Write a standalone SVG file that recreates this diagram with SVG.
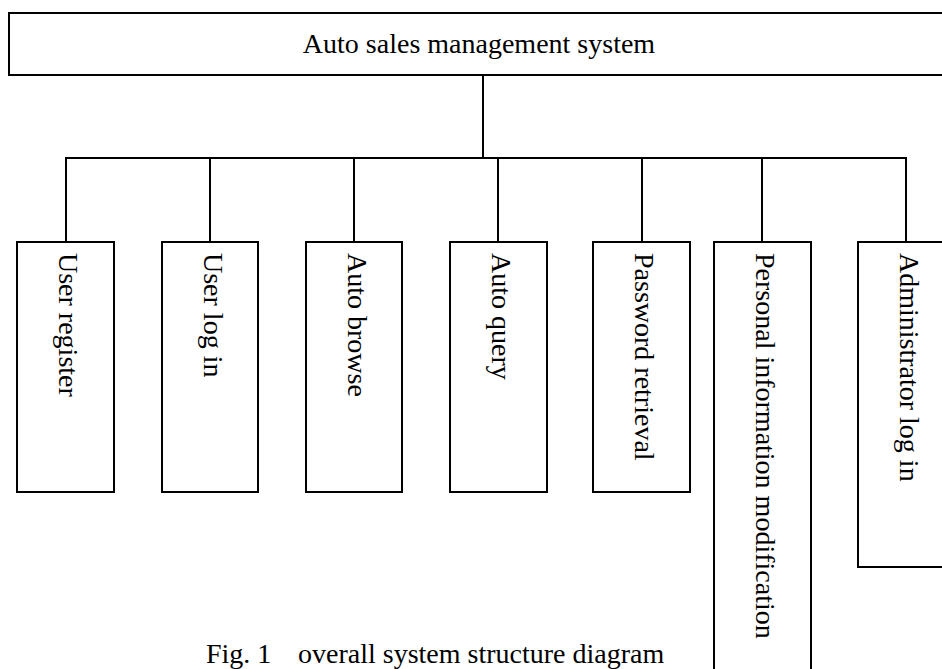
<svg xmlns="http://www.w3.org/2000/svg" width="942" height="669" viewBox="0 0 942 669">
<style>
.box{fill:#fff;stroke:#000;stroke-width:2}
.ln{stroke:#000;stroke-width:2;fill:none}
text{font-family:"Liberation Serif","Times New Roman",serif;font-size:28px;fill:#000}
</style>
<rect width="942" height="669" fill="#fff"/>
<g id="root">
<rect class="box" x="9" y="13" width="950" height="62"/>
<text x="479" y="53" text-anchor="middle">Auto sales management system</text>
</g>
<g id="connectors">
<line class="ln" x1="483" y1="75" x2="483" y2="158"/>
<line class="ln" x1="65" y1="158" x2="907" y2="158"/>
<line class="ln" x1="66" y1="158" x2="66" y2="242"/>
<line class="ln" x1="210" y1="158" x2="210" y2="242"/>
<line class="ln" x1="354" y1="158" x2="354" y2="242"/>
<line class="ln" x1="498" y1="158" x2="498" y2="242"/>
<line class="ln" x1="642" y1="158" x2="642" y2="242"/>
<line class="ln" x1="762" y1="158" x2="762" y2="242"/>
<line class="ln" x1="906" y1="158" x2="906" y2="242"/>
</g>
<g id="n1">
<rect class="box" x="17" y="242" width="97" height="250"/>
<text transform="translate(59,253) rotate(90)">User register</text>
</g>
<g id="n2">
<rect class="box" x="162" y="242" width="96" height="250"/>
<text transform="translate(204,253) rotate(90)">User log in</text>
</g>
<g id="n3">
<rect class="box" x="306" y="242" width="96" height="250"/>
<text transform="translate(348,253) rotate(90)">Auto browse</text>
</g>
<g id="n4">
<rect class="box" x="450" y="242" width="97" height="250"/>
<text transform="translate(492,253) rotate(90)">Auto query</text>
</g>
<g id="n5">
<rect class="box" x="593" y="242" width="97" height="250"/>
<text transform="translate(635,253) rotate(90)">Password retrieval</text>
</g>
<g id="n6">
<rect class="box" x="714" y="242" width="97" height="440"/>
<text transform="translate(756,253) rotate(90)">Personal information modification</text>
</g>
<g id="n7">
<rect class="box" x="858" y="242" width="97" height="325"/>
<text transform="translate(900,253) rotate(90)">Administrator log in</text>
</g>
<g id="caption">
<text y="663"><tspan x="206">Fig. 1</tspan><tspan x="298">overall system structure diagram</tspan></text>
</g>
</svg>
